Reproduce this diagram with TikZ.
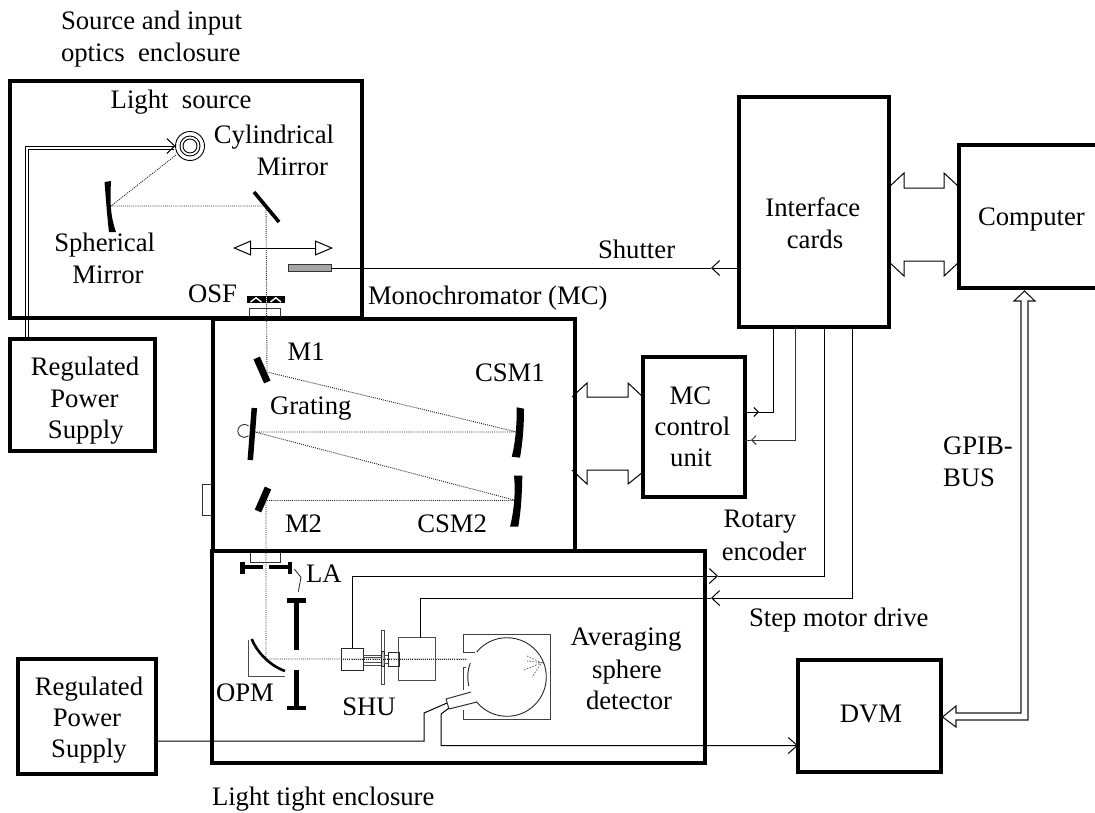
\documentclass[tikz,border=0pt]{standalone}
\usepackage{fontspec}
\setmainfont{Liberation Serif}
\usetikzlibrary{fit,arrows.meta}
\tikzset{
  x=1pt,y=-1pt,
  bx/.style={draw=black,line width=3.5pt,inner sep=0pt,outer sep=0pt,fill=none},
  hidden/.style={inner sep=0pt,outer sep=0pt},
  txt/.style={inner sep=0pt,outer sep=0pt,anchor=base west,font=\fontsize{26.7}{32}\selectfont},
  ctxt/.style={txt,anchor=base},
  wire/.style={draw=black,line width=1pt},
  fine/.style={draw=black!80,line width=1pt},
  beam/.style={draw=black!85,line width=0.9pt,dash pattern=on 1pt off 1.1pt},
  chev/.style={-{Straight Barb[length=8pt,width=15pt,line width=1pt]}},
  smallchev/.style={-{Straight Barb[length=4.5pt,width=9pt,line width=1pt]}},
  opentip/.style={{Triangle[open,length=18pt,width=15pt,line width=1pt,fill=white]}-{Triangle[open,length=18pt,width=15pt,line width=1pt,fill=white]}},
  thick mirror/.style={fill=black,draw=none},
}
\begin{document}
\begin{tikzpicture}
\useasboundingbox (0,0) rectangle (1095,812);
% boxes
\node[bx,fit={(10,81)(362,318)}] (src) {};
\node[bx,fit={(213,319)(575,551)}] (mono) {};
\node[bx,fit={(212,551)(705,763)}] (encl) {};
\node[bx,fit={(10,339)(155,451)}] (psua) {};
\node[bx,fit={(18,659)(156,774)}] (psub) {};
\node[bx,fit={(739,97)(889,327)}] (intf) {};
\node[bx,fit={(643,357)(745,497)}] (mcu) {};
\node[bx,fit={(798,660)(941,772)}] (dvm) {};
\node[hidden,minimum width=0pt,fit={(959,145)(1095,288)}] (comp) {};
\draw[line width=3.5pt] (comp.north east) -- (comp.north west) -- (comp.south west) -- (comp.south east);

% labels
\node[txt] (t1) at (61,29) {Source and input};
\node[txt] (t2) at (61,61) {optics\ \ enclosure};
\node[txt] (t3) at (110.7,108) {Light\ \ source};
\node[ctxt] (t4) at (274,143) {Cylindrical};
\node[ctxt] (t5) at (292.5,175) {Mirror};
\node[ctxt] (t6) at (104.7,251.7) {Spherical};
\node[ctxt] (t7) at (108,283) {Mirror};
\node[txt] (t8) at (188,302) {OSF};
\node[txt] (t9) at (368,304) {Monochromator (MC)};
\node[txt] (t10) at (598,258) {Shutter};
\node[ctxt] (t11) at (812.8,216.7) {Interface};
\node[ctxt] (t12) at (815,248) {cards};
\node[txt] (t13) at (978,225) {Computer};
\node[ctxt] (t14) at (85,375) {Regulated};
\node[ctxt] (t15) at (84.5,407) {Power};
\node[ctxt] (t16) at (85.8,438) {Supply};
\node[ctxt] (t17) at (89,695) {Regulated};
\node[ctxt] (t18) at (87,726) {Power};
\node[ctxt] (t19) at (89,757) {Supply};
\node[txt] (t20) at (287.7,360.7) {M1};
\node[txt] (t21) at (475,381.7) {CSM1};
\node[txt] (t22) at (270,414) {Grating};
\node[txt] (t23) at (285,532.3) {M2};
\node[txt] (t24) at (417.3,532.3) {CSM2};
\node[txt] (t25) at (306,582.7) {LA};
\node[txt] (t26) at (216,701.7) {OPM};
\node[txt] (t27) at (342.3,715) {SHU};
\node[ctxt] (t28) at (626,645.7) {Averaging};
\node[ctxt] (t29) at (627,678) {sphere};
\node[ctxt] (t30) at (629,709) {detector};
\node[ctxt] (t31) at (690.5,404) {MC};
\node[ctxt] (t32) at (692.5,435.7) {control};
\node[ctxt] (t33) at (691,466) {unit};
\node[ctxt] (t34) at (760,527.7) {Rotary};
\node[ctxt] (t35) at (764,560) {encoder};
\node[txt] (t36) at (749,626.7) {Step motor drive};
\node[txt] (t37) at (943,454) {GPIB-};
\node[txt] (t38) at (943,486) {BUS};
\node[ctxt] (t39) at (871,722.7) {DVM};
\node[txt] (t40) at (212,805.7) {Light tight enclosure};

% lamp
\node[hidden,circle,draw=black,line width=0.9pt,minimum size=29pt] (lampo) at (190,146) {};
\node[hidden,circle,draw=black,line width=0.9pt,minimum size=20pt] (lampm) at (190,146) {};
\node[hidden,circle,draw=black,line width=0.9pt,minimum size=14pt] (lampi) at (190,146) {};

% power feed
\coordinate (pa) at (25,0 |- psua.north);
\coordinate (pb) at (28,0 |- psua.north);
\draw[wire,chev] ([yshift=-1pt]pa) -- (25,146) -- (lampo.west);
\draw[wire] ([yshift=-1pt]pb) -- (28,149) -- (174,149);

% beam path
\coordinate (bS) at (111,206);
\coordinate (bC) at (266,206);
\coordinate (bM1) at (267,372);
\coordinate (bCa) at (517,432);
\coordinate (bG) at (255,432);
\coordinate (bCb) at (516,500.5);
\coordinate (bM2) at (266,500.5);
\coordinate (bO) at (266,659);
\coordinate (bD) at (467,659);
\draw[beam] (176,155) -- (bS) -- (bC) -- (bM1) -- (bCa) -- (bG) -- (bCb) -- (bM2) -- (bO) -- (bD);

% mirrors
\fill[thick mirror] (104.5,182) -- (111,181) .. controls (110,200) and (110,215) .. (116,232) -- (109,232) .. controls (107,215) and (106,200) .. cycle;
\draw[line width=3.6pt] (254,192) -- (279,222);
\draw[line width=7pt] (256.7,358) -- (267.3,382);
\draw[line width=5.5pt] (254.3,408) -- (250.3,460);
\draw[line width=7pt] (268,488) -- (258,511);
\fill[thick mirror] (516.7,407.3) -- (524,408.7) .. controls (524,425) and (523,440) .. (520,457.7) -- (511.7,456.7) .. controls (515,445) and (517,425) .. cycle;
\fill[thick mirror] (514,475.7) -- (522.3,475.7) .. controls (522,495) and (521,510) .. (518.3,526.7) -- (510,526.7) .. controls (513,515) and (516,495) .. cycle;
\draw[black!80,line width=0.9pt] (248.5,426) arc[start angle=50,end angle=310,radius=6.5pt];

% translating arrow and shutter
\draw[wire,opentip] (233,248) -- (333,248);
\node[hidden,draw=black!80,fill=black!35,line width=0.9pt,fit={(288,264.5)(331,271.5)}] (shut) {};
\draw[wire,chev] (intf.west |- shut.east) -- (711,0 |- shut.east);
\draw[wire] (711,0 |- shut.east) -- (shut.east);

% OSF
\fill (247.3,296) rectangle (265.5,303.3);
\fill (267,296) rectangle (284.7,303.3);
\draw[white,line width=1.4pt] (250.5,302) -- (256,297.8) -- (261.5,302);
\draw[white,line width=1.4pt] (270.5,302) -- (275.8,297.8) -- (281,302);
\draw[fine] (249.5,317) -- (249.5,308.3) -- (280.5,308.3) -- (280.5,317);
% brackets on monochromator
\draw[fine] (250,553) -- (250,562) -- (280,562) -- (280,553);
\draw[fine] (212,484) -- (202,484) -- (202,515) -- (212,515);

% LA stops
\draw[line width=3.6pt] (241,567) -- (262.7,567);
\draw[line width=3.6pt] (269,567) -- (291.5,567);
\draw[line width=4.5pt] (242.5,561.5) -- (242.5,573.5);
\draw[line width=4.5pt] (290,561.5) -- (290,573.5);
\draw[line width=4.5pt] (296.7,600) -- (296.7,650);
\draw[line width=4.5pt] (287,600.5) -- (306,600.5);
\draw[line width=4.5pt] (296.7,670) -- (296.7,708);
\draw[line width=4.5pt] (287,708) -- (306,708);
\draw[black!85,line width=0.8pt] (294.3,569) -- (301,577.3) -- (298.3,591.7);

% OPM
\draw[black!70,line width=1pt] (248,640) -- (248,676) -- (285,676);
\draw[line width=2.6pt] (251.7,639) .. controls (256,650) and (268,665) .. (285,671);

% SHU assembly
\node[hidden,draw=black!85,line width=1pt,fit={(341.3,648.3)(363.3,670)}] (shuL) {};
\draw[black!70,line width=1pt] (363.3,655) -- (381,655) (363.3,657.5) -- (381,657.5) (363.3,662) -- (381,662) (363.3,665) -- (381,665);
\draw[black!70,line width=1pt] (381,630.7) rectangle (384,684.3);
\draw[black!85,line width=1pt,fill=black!25] (381,651.7) rectangle (384.5,666);
\draw[black!70,line width=1pt] (384.5,655) rectangle (388.3,663);
\draw[black!85,line width=1pt] (388.3,652.7) rectangle (399,666);
\node[hidden,draw=black!70,line width=1pt,fit={(398.7,637.7)(435,680.7)}] (shuM) {};
\draw[beam] (341,659) -- (bD);

% connections to the SHU assembly
\coordinate (rA) at (824,0 |- intf.south);
\coordinate (rB) at (852,0 |- intf.south);
\draw[wire,chev] (352,0 |- shuL.north) -- (352,576) -- (718,576);
\draw[wire] (718,576) -- (824,576) -- (rA);
\draw[wire,chev] (rB) -- (852,598) -- (711,598);
\draw[wire] (711,598) -- (420,598) -- (420,0 |- shuM.north);

% lines to MC control unit
\coordinate (cA) at (773,0 |- intf.south);
\coordinate (cB) at (795,0 |- intf.south);
\draw[wire,smallchev] (mcu.east |- 0,412) -- (759,412);
\draw[wire] (759,412) -- (773,412) -- (cA);
\draw[fine,smallchev] (cB) -- (795,440) -- (751,440);
\draw[fine] (751,440) -- (mcu.east |- 0,440);

% bus connectors
\draw[wire] (572,397) -- (587,383) -- (587,397) -- (628,397) -- (628,383) -- (mcu.west |- 0,397);
\draw[wire] (572,470) -- (587,484) -- (587,470) -- (628,470) -- (628,484) -- (mcu.west |- 0,472);
\draw[wire] (intf.east |- 0,187) -- (904,173) -- (904,188) -- (944,188) -- (944,173) -- (comp.west |- 0,187);
\draw[wire] (intf.east |- 0,262) -- (904,276) -- (904,261) -- (944,261) -- (944,276) -- (comp.west |- 0,262);

% GPIB bus
\coordinate (gU) at (1024.5,291);
\coordinate (gD) at (942.5,717);
\draw[black!90,line width=1.1pt,line join=miter] (956,713) -- (1021,713) -- (1021,301) -- (1014,301) -- (gU) -- (1035,301) -- (1028,301) -- (1028,720) -- (956,720) -- (956,727) -- (gD) -- (956,706) -- cycle;

% sphere detector
\draw[black!75,line width=1pt] (475,652) -- (463,652) -- (463,634) -- (550.3,634) -- (550.3,719.3) -- (463,719.3) -- (463,710);
\draw[black!75,line width=1pt] (466,667) -- (463,667) -- (463,690);
\coordinate (sc) at (507,677);
\draw[black!85,line width=0.9pt] (sc) ++(141:39.3) arc[start angle=141,end angle=-140.5,radius=39.3];
\draw[black!85,line width=0.9pt] (sc) ++(167:39.3) arc[start angle=167,end angle=201,radius=39.3];
\draw[black!60,line width=0.8pt,dash pattern=on 1.5pt off 1.5pt] (527,656) -- (541.7,662.7) -- (527,661) (524,670) -- (541.7,662.7) -- (532,677);
\draw[black!80,line width=1pt] (446,699) -- (471,692) (449,709) -- (477,702) (446,699) -- (449,709);

% detector wiring
\draw[wire] (psub.east |- 0,741) -- (424,741) -- (424,713) -- (447,703);
\draw[wire,-{Straight Barb[length=9pt,width=16pt,line width=1pt]}] (449,708) -- (441,714) -- (441,745.5) -- (dvm.west |- 0,745.5);
\end{tikzpicture}
\end{document}
